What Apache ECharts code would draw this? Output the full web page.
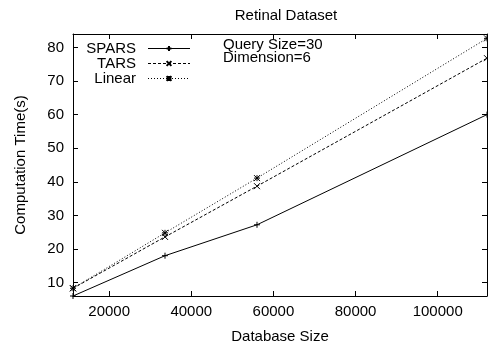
<!DOCTYPE html>
<html>
<head>
<meta charset="utf-8">
<script src="https://cdn.jsdelivr.net/npm/echarts@6/dist/echarts.min.js"></script>
<style>
  html, body { margin: 0; padding: 0; background: #fff; }
  #chart { width: 488px; height: 349px; }
</style>
</head>
<body>
<div id="chart"></div>
<script>
// database sizes (x) and computation times (y, seconds)
var dbSize = [11200, 33600, 56000, 112000]
var spars = [6.0, 18.0, 27.2, 60.0]
var tars = [8.3, 23.6, 38.7, 76.8]
var linear = [8.3, 24.8, 41.1, 82.7]

var xTicks = [20000, 40000, 60000, 80000, 100000]
var yTicks = [10, 20, 30, 40, 50, 60, 70, 80]

var FONT = 'Liberation Sans'
var plus = 'path://M0,-1L0,1M-1,0L1,0'
var cross = 'path://M-1,-1L1,1M-1,1L1,-1'
var star = 'path://M0,-1L0,1M-1,0L1,0M-1,-1L1,1M-1,1L1,-1'

function pairs(ys) {
  return dbSize.map(function (x, i) { return [x, ys[i]] })
}

function makeSeries(name, ys, dash, symbol) {
  return {
    name: name,
    type: 'line',
    data: pairs(ys),
    symbol: symbol,
    symbolSize: 6,
    showAllSymbol: true,
    animation: false,
    lineStyle: { color: '#000', width: 1, type: dash },
    itemStyle: { color: '#000', borderColor: '#000', borderWidth: 1 }
  }
}

function xAxis(pos, withLabels) {
  return {
    type: 'value', position: pos, min: 11200, max: 112000,
    name: withLabels ? 'Database Size' : '',
    nameLocation: 'middle', nameGap: 33,
    nameTextStyle: { fontFamily: FONT, fontSize: 15, color: '#000' },
    axisLine: { show: true, lineStyle: { color: '#000', width: 1 } },
    axisTick: { show: true, inside: true, length: 5, customValues: xTicks, lineStyle: { color: '#000' } },
    axisLabel: {
      show: withLabels, margin: 8, customValues: xTicks, fontFamily: FONT, fontSize: 15, color: '#000',
      formatter: function (v) { return String(v) }
    },
    splitLine: { show: false }
  }
}

function yAxis(pos, withLabels) {
  return {
    type: 'value', position: pos, min: 6, max: 84,
    name: withLabels ? 'Computation Time(s)' : '',
    nameLocation: 'middle', nameGap: 45,
    nameTextStyle: { fontFamily: FONT, fontSize: 15, color: '#000' },
    axisLine: { show: true, lineStyle: { color: '#000', width: 1 } },
    axisTick: { show: true, inside: true, length: 5, customValues: yTicks, lineStyle: { color: '#000' } },
    axisLabel: { show: withLabels, margin: 9, customValues: yTicks, fontFamily: FONT, fontSize: 15, color: '#000' },
    splitLine: { show: false }
  }
}

var myChart = echarts.init(document.getElementById('chart'), null, { renderer: 'canvas' })
myChart.setOption({
  backgroundColor: '#fff',
  animation: false,
  title: {
    text: 'Retinal Dataset', left: 281, top: 3, textAlign: 'center',
    textStyle: { fontFamily: FONT, fontSize: 15, fontWeight: 'normal', color: '#000' }
  },
  grid: { left: 73, right: 1, top: 34, bottom: 51 },
  legend: {
    orient: 'vertical', left: 71, top: 36, align: 'right',
    itemWidth: 42, itemHeight: 6, itemGap: 0,
    lineStyle: { width: 1 },
    textStyle: { fontFamily: FONT, fontSize: 15, lineHeight: 15, color: '#000', width: 60, align: 'right', padding: [0, 7, 0, 0] },
    data: ['SPARS', 'TARS', 'Linear']
  },
  graphic: [
    { type: 'text', left: 223, top: 37, style: { text: 'Query Size=30', fontFamily: FONT, fontSize: 15, fill: '#000' } },
    { type: 'text', left: 223, top: 50, style: { text: 'Dimension=6', fontFamily: FONT, fontSize: 15, fill: '#000' } }
  ],
  xAxis: [xAxis('bottom', true), xAxis('top', false)],
  yAxis: [yAxis('left', true), yAxis('right', false)],
  series: [
    makeSeries('SPARS', spars, 'solid', plus),
    makeSeries('TARS', tars, [3, 2], cross),
    makeSeries('Linear', linear, [1, 2], star)
  ]
})
</script>
</body>
</html>
